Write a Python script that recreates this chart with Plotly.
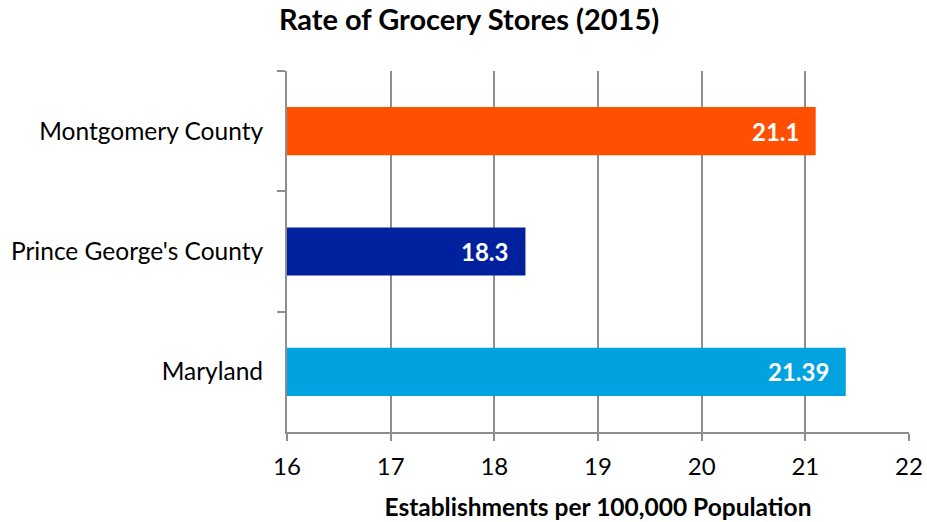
import plotly.graph_objects as go

categories = ["Montgomery County", "Prince George's County", "Maryland"]
values = [21.1, 18.3, 21.39]
labels = ["21.1", "18.3", "21.39"]
colors = ["#FF4F00", "#00219E", "#00A3E0"]
x_ticks = [16, 17, 18, 19, 20, 21, 22]

FONT = "Lato"
GRID = "#8e8e8e"

fig = go.Figure()
fig.add_trace(go.Bar(
    y=categories, x=values, orientation="h",
    marker=dict(color=colors, line=dict(width=0)),
    width=0.4, hoverinfo="skip",
))

for cat, v, lab in zip(categories, values, labels):
    fig.add_annotation(
        x=v, y=cat, text="<b>" + lab + "</b>", showarrow=False,
        xanchor="right", yanchor="middle", xshift=-15,
        font=dict(family=FONT, size=24, color="white"),
    )

fig.update_layout(
    width=927, height=522,
    margin=dict(l=287, r=18, t=71, b=90, autoexpand=False),
    paper_bgcolor="white", plot_bgcolor="white",
    showlegend=False,
    title=dict(
        text="<b>Rate of Grocery Stores (2015)</b>",
        x=0.506, xanchor="center", y=0.962, yanchor="middle",
        font=dict(family=FONT, size=29, color="black"),
    ),
    font=dict(family=FONT, size=24, color="black"),
)

fig.update_xaxes(
    range=[16, 22], tickvals=x_ticks, ticktext=[str(t) for t in x_ticks],
    showgrid=True, gridcolor=GRID, gridwidth=2,
    showline=True, linecolor=GRID, linewidth=2,
    ticks="outside", ticklen=7, tickwidth=2, tickcolor=GRID,
    tickfont=dict(family=FONT, size=24, color="black"),
    ticklabelstandoff=5,
    zeroline=False, automargin=False,
    title=dict(text="<b>Establishments per 100,000 Population</b>",
               font=dict(family=FONT, size=24.5, color="black"), standoff=20),
)
fig.update_yaxes(
    categoryorder="array", categoryarray=categories, autorange="reversed",
    showline=True, linecolor=GRID, linewidth=2,
    ticks="outside", ticklen=8, tickwidth=2, tickcolor=GRID,
    tickson="boundaries", showgrid=False,
    tickfont=dict(family=FONT, size=24.5, color="black"),
    ticklabelstandoff=17, automargin=False,
)

fig.write_html("out.html")
